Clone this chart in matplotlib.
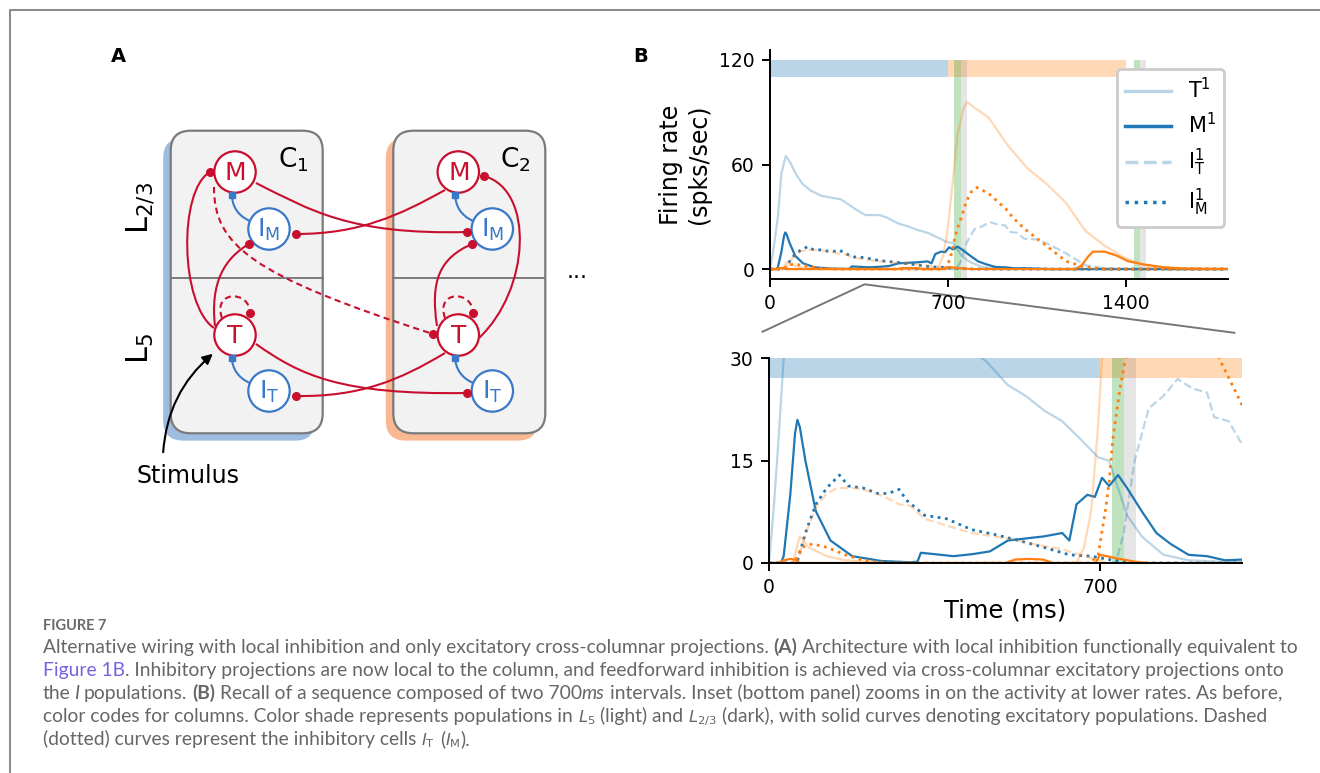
import numpy as np
import matplotlib.pyplot as plt
import matplotlib.patches as mpatches
from matplotlib.path import Path
from matplotlib import font_manager

# firing-rate traces (time in ms, rate in spks/sec)
# column 1 (blue)
t_T1 = [0, 10, 20, 31, 45, 62, 80, 100, 127, 160, 203, 240, 279, 340, 375, 432, 459, 505, 543,
        581, 620, 658, 696, 719, 734, 757, 788, 834, 887, 950, 1000, 1100, 1800]
T1 = [0, 8, 18, 30, 55, 65, 61, 55, 49, 45, 42, 41, 40, 34, 31, 31, 29.6, 26.1, 24.5,
      22.4, 20.8, 18.2, 15.5, 15, 11.8, 7, 3.9, 1.2, 0.4, 0.2, 0.1, 0, 0]
t_M1 = [0, 25, 31, 45, 55, 60, 65, 77, 99, 130, 176, 237, 300, 314, 321, 350, 390, 430, 467, 505,
        543, 581, 620, 635, 650, 673, 689, 704, 719, 738, 757, 788, 819, 849, 887, 926, 964, 1000,
        1100, 1800]
M1 = [0, 0, 1, 10, 19, 21, 20, 15, 7.6, 3.3, 1, 0.3, 0.1, 0.2, 1.5, 1.3, 1, 1.3, 1.7, 3.3,
      3.6, 3.9, 4.4, 3.3, 8.6, 10, 9.7, 12.5, 11.3, 12.9, 11, 7.6, 4.4, 2.8, 1.2, 1, 0.4, 0.5,
      0, 0]
t_IT1 = [0, 700, 727, 734, 750, 773, 803, 834, 864, 895, 926, 941, 972, 1000, 1050, 1100, 1164,
         1240, 1316, 1400, 1800]
IT1 = [0, 0, 0, 0.2, 4.4, 15, 22.7, 24.5, 27, 25.6, 25, 21.4, 20.8, 17.4, 17, 14, 9,
       2.2, 0.5, 0, 0]
t_IM1 = [0, 55, 61, 77, 99, 122, 149, 168, 199, 230, 252, 275, 291, 329, 375, 428, 482, 528, 581,
         635, 681, 727, 800, 1800]
IM1 = [0, 0, 0.5, 4.4, 8.6, 11, 12.9, 11.3, 11, 10.2, 10.2, 10.8, 9.2, 7, 6.5, 4.9, 4.1, 3.3, 2.3,
       1.2, 1, 0.4, 0, 0]

# column 2 (orange)
t_T2 = [0, 50, 65, 84, 122, 161, 250, 650, 666, 681, 696, 704, 720, 736, 760, 775, 800, 859, 935,
        1011, 1087, 1164, 1240, 1316, 1392, 1469, 1545, 1600, 1800]
T2 = [0, 0, 3.9, 2.3, 1, 0.4, 0, 0, 2.3, 7.6, 20.3, 30, 52, 76, 92, 96, 93, 87, 71,
      58, 49, 38, 22, 13.4, 6.7, 2.2, 0.5, 0, 0]
t_M2 = [0, 20, 31, 45, 54, 65, 500, 520, 550, 580, 600, 690, 700, 734, 773, 800, 1200, 1225, 1250,
        1270, 1316, 1362, 1408, 1469, 1545, 1621, 1700, 1800]
M2 = [0, 0, 0.4, 0.6, 0.5, 0, 0, 0.5, 0.6, 0.5, 0, 0, 1.2, 0.7, 0.2, 0, 0, 2, 7,
      10, 10, 7.8, 4.5, 2.7, 1.1, 0.4, 0.2, 0.1]
t_IT2 = [0, 55, 61, 84, 99, 122, 145, 184, 214, 245, 275, 298, 329, 375, 428, 505, 558, 620, 658,
         696, 720, 1800]
IT2 = [0, 0, 0.5, 5.5, 8.1, 10.2, 11, 11, 10.5, 9.7, 8.6, 8.4, 6.5, 5.5, 4.4, 3.6, 2.8, 2, 1.2,
       0.4, 0, 0]
t_IM2 = [0, 55, 57, 69, 92, 122, 161, 199, 250, 680, 696, 711, 719, 727, 742, 754, 770, 790, 813,
         859, 935, 952, 1000, 1087, 1164, 1240, 1316, 1800]
IM2 = [0, 0, 0.5, 2.3, 2.8, 2.3, 1.2, 0.4, 0, 0, 1.2, 7.6, 11.8, 18.2, 25.6, 30, 38, 44, 46.8,
       43.5, 33.5, 30, 23.2, 13.4, 4.5, 1.1, 0, 0]

# sequence intervals and recall markers
interval_edges = [0, 700, 1400]
green_marks = [725, 1430]
mark_width = 25

legend_labels = [r'$\mathregular{T^1}$', r'$\mathregular{M^1}$',
                 r'$\mathregular{I^1_T}$', r'$\mathregular{I^1_M}$']

blue = '#1f77b4'
orange = '#ff7f0e'
red = '#c8102e'
nblue = '#3a78c8'

fig = plt.figure(figsize=(13.2, 7.73), dpi=100)

# full-figure canvas in pixel units for the diagram, border and caption
cv = fig.add_axes([0, 0, 1, 1])
cv.set_xlim(0, 1320)
cv.set_ylim(773, 0)
cv.axis('off')

# frame
cv.plot([10, 10, 1320], [773, 10, 10], color='#8c8c8c', lw=1.5, solid_capstyle='butt')

# ---------------- panel A ----------------
cv.text(118, 56, 'A', fontsize=14, weight='bold', ha='center', va='center')
cv.text(641, 56, 'B', fontsize=14, weight='bold', ha='center', va='center')

for x0, shade in [(170.7, '#9dbde0'), (393.3, '#f9b891')]:
    cv.add_patch(mpatches.FancyBboxPatch((x0 - 7.5, 138), 152, 302.6,
                 boxstyle='round,pad=0,rounding_size=20', fc=shade, ec='none', zorder=1))
    cv.add_patch(mpatches.FancyBboxPatch((x0, 130.7), 152, 302.6,
                 boxstyle='round,pad=0,rounding_size=20', fc='#f2f2f2', ec='#7a7a7a', lw=1.6, zorder=2))
    cv.plot([x0, x0 + 152], [277.7, 277.7], color='#7a7a7a', lw=1.4, zorder=2)

cv.text(293, 160, r'$\mathregular{C_1}$', fontsize=19, ha='center', va='center', zorder=5)
cv.text(515, 160, r'$\mathregular{C_2}$', fontsize=19, ha='center', va='center', zorder=5)
cv.text(140, 208, r'$\mathregular{L_{2/3}}$', fontsize=22, rotation=90, ha='center', va='center')
cv.text(140, 348, r'$\mathregular{L_5}$', fontsize=22, rotation=90, ha='center', va='center')
cv.text(577, 272, '...', fontsize=16, ha='center', va='center')


def link(p0, c1, c2, p3, color=red, ls='-', tip='o'):
    path = Path([p0, c1, c2, p3], [Path.MOVETO, Path.CURVE4, Path.CURVE4, Path.CURVE4])
    cv.add_patch(mpatches.PathPatch(path, fc='none', ec=color, lw=1.5, ls=ls, zorder=3))
    cv.plot(p3[0], p3[1], marker=tip, ms=5.5 if tip == 'o' else 4.5, color=color, zorder=6)


# excitatory projections
link((214, 328), (180, 305), (178, 190), (210, 172))
link((215, 326), (210, 282), (225, 258), (249, 244))
link((222, 318), (212, 290), (250, 290), (250, 313), ls=(0, (3, 2)))
link((256, 183), (310, 210), (350, 235), (467, 232))
link((445, 190), (400, 215), (360, 234), (296, 234))
link((214, 187), (214, 245), (250, 275), (433, 334), ls=(0, (3, 2)))
link((256, 344), (300, 375), (340, 395), (467, 393))
link((445, 353), (400, 380), (360, 397), (296, 396))
link((479, 338), (530, 290), (535, 190), (484, 176))
link((437, 326), (430, 280), (440, 258), (472, 244))
link((445, 318), (435, 290), (473, 290), (473, 313), ls=(0, (3, 2)))
# local inhibition
for dx in [0, 223.3]:
    link((250 + dx, 221), (238 + dx, 216), (232 + dx, 206), (232 + dx, 195), color=nblue, tip='s')
    link((250 + dx, 383), (238 + dx, 378), (232 + dx, 368), (232 + dx, 358), color=nblue, tip='s')

nodes = [('M', 235, 172, red), ('I_M', 269, 229, nblue), ('T', 235, 335, red), ('I_T', 269, 391, nblue)]
for dx in [0, 223.3]:
    for name, x, y, col in nodes:
        cv.add_patch(mpatches.Circle((x + dx, y), 20.7, fc='white', ec=col, lw=1.6, zorder=4))
        cv.text(x + dx, y + 1, r'$\mathregular{%s}$' % name, fontsize=18, color=col,
                ha='center', va='center', zorder=5)

cv.add_patch(mpatches.FancyArrowPatch((163, 455), (215, 352), connectionstyle='arc3,rad=-0.22',
             arrowstyle='-|>,head_length=6,head_width=3', color='black', lw=1.5, zorder=6))
cv.text(188, 476, 'Stimulus', fontsize=17, ha='center', va='center')

# ---------------- panel B ----------------
def draw_traces(ax):
    ax.plot(t_T1, T1, color=blue, alpha=0.3, lw=1.6, label=legend_labels[0])
    ax.plot(t_M1, M1, color=blue, lw=1.6, label=legend_labels[1])
    ax.plot(t_IT1, IT1, color=blue, alpha=0.3, lw=1.6, ls='--', label=legend_labels[2])
    ax.plot(t_IM1, IM1, color=blue, lw=2, ls=':', label=legend_labels[3])
    ax.plot(t_T2, T2, color=orange, alpha=0.3, lw=1.6)
    ax.plot(t_M2, M2, color=orange, lw=1.6)
    ax.plot(t_IT2, IT2, color=orange, alpha=0.3, lw=1.6, ls='--')
    ax.plot(t_IM2, IM2, color=orange, lw=2, ls=':')


def draw_bands(ax, lo, hi, bottom, xmax):
    cols = [blue, orange]
    for i in range(len(interval_edges) - 1):
        ax.fill_between([interval_edges[i], min(interval_edges[i + 1], xmax)], lo, hi,
                        color=cols[i], alpha=0.3, lw=0, zorder=1)
    for g in green_marks:
        if g < xmax:
            ax.fill_between([g, g + mark_width], bottom, hi, color='#2ca02c', alpha=0.3, lw=0, zorder=1)
            ax.fill_between([g + mark_width, g + 2 * mark_width], bottom, hi, color='#7f7f7f',
                            alpha=0.2, lw=0, zorder=1)


def style(ax):
    for s in ['top', 'right']:
        ax.spines[s].set_visible(False)
    for s in ['left', 'bottom']:
        ax.spines[s].set_linewidth(1.4)
    ax.tick_params(labelsize=13.5, width=1.4, length=6, pad=5)


top = fig.add_axes([770 / 1320, (773 - 279) / 773, 457.7 / 1320, 229 / 773])
draw_bands(top, 110, 120, -5.7, 1800)
draw_traces(top)
top.set_xlim(0, 1800)
top.set_ylim(-5.7, 125.7)
top.set_xticks([0, 700, 1400])
top.set_yticks([0, 60, 120])
top.set_ylabel('Firing rate\n(spks/sec)', fontsize=17, labelpad=6)
style(top)
leg = top.legend(loc='upper right', bbox_to_anchor=(0.992, 0.917), fontsize=15, frameon=True,
                 fancybox=True, framealpha=1, edgecolor='#cccccc', handlelength=2.2,
                 labelspacing=0.45, borderaxespad=0)
leg.get_frame().set_linewidth(2)
for h in leg.get_lines():
    h.set_linewidth(2.5)

bot = fig.add_axes([769 / 1320, (773 - 563) / 773, 473 / 1320, 204.5 / 773])
draw_bands(bot, 27.1, 30, 0, 1000)
draw_traces(bot)
bot.set_xlim(0, 1000)
bot.set_ylim(0, 30)
bot.set_xticks([0, 700])
bot.set_yticks([0, 15, 30])
bot.set_xlabel('Time (ms)', fontsize=17.5, labelpad=1)
style(bot)

cv.plot([762.6, 864.6, 1234.4], [331.7, 284.3, 332.8], color='#777777', lw=1.4)

# ---------------- caption ----------------
names = {f.name for f in font_manager.fontManager.ttflist}
cap_font = 'Lato' if 'Lato' in names else 'Open Sans'
capc = '#666666'
linkc = '#7564e0'
renderer = fig.canvas.get_renderer()

cv.text(43, 630, 'FIGURE 7', fontsize=10.5, weight='bold', color='#6b6b6b', family=cap_font,
        va='baseline')

# (text, style, space before in space widths)
caption = [
    [('Alternative wiring with local inhibition and only excitatory cross-columnar projections.', 'n', 0),
     ('(A)', 'b', 1), ('Architecture with local inhibition functionally equivalent to', 'n', 1)],
    [('Figure 1B', 'l', 0),
     ('. Inhibitory projections are now local to the column, and feedforward inhibition is achieved via cross-columnar excitatory projections onto', 'n', 0)],
    [('the', 'n', 0), ('I', 'i', 0.6), ('populations.', 'n', 1), ('(B)', 'b', 1),
     ('Recall of a sequence composed of two 700', 'n', 1), ('ms', 'i', 0),
     ('intervals. Inset (bottom panel) zooms in on the activity at lower rates. As before,', 'n', 1)],
    [('color codes for columns. Color shade represents populations in', 'n', 0),
     (r'$L_5$', 'm', 1), ('(light) and', 'n', 1), (r'$L_{2/3}$', 'm', 1),
     ('(dark), with solid curves denoting excitatory populations. Dashed', 'n', 1)],
    [('(dotted) curves represent the inhibitory cells', 'n', 0), (r'$I_\mathrm{T}$', 'm', 1),
     ('(', 'n', 1), (r'$I_\mathrm{M}$', 'm', 0), (').', 'n', 0)],
]


def kw(st, fs):
    d = dict(fontsize=fs, color=capc, family=cap_font, va='baseline')
    if st == 'b':
        d['weight'] = 'bold'
    elif st == 'i':
        d['style'] = 'italic'
    elif st == 'l':
        d['color'] = linkc
    elif st == 'm':
        d['fontsize'] = fs * 0.85
    return d


def width(s, st, fs):
    t = cv.text(0, 0, s, **kw(st, fs))
    w = t.get_window_extent(renderer).width
    t.remove()
    return w


fs = 12
sp = width('a a', 'n', fs) - width('aa', 'n', fs)
line1 = sum(width(s, st, fs) + sp * gap for s, st, gap in caption[0])
fs = fs * 1256 / line1
sp = width('a a', 'n', fs) - width('aa', 'n', fs)

for i, line in enumerate(caption):
    x = 43
    y = 653 + 23 * i
    for s, st, gap in line:
        x += sp * gap
        t = cv.text(x, y, s, **kw(st, fs))
        x += t.get_window_extent(renderer).width

fig.savefig('out.png', dpi=100)
